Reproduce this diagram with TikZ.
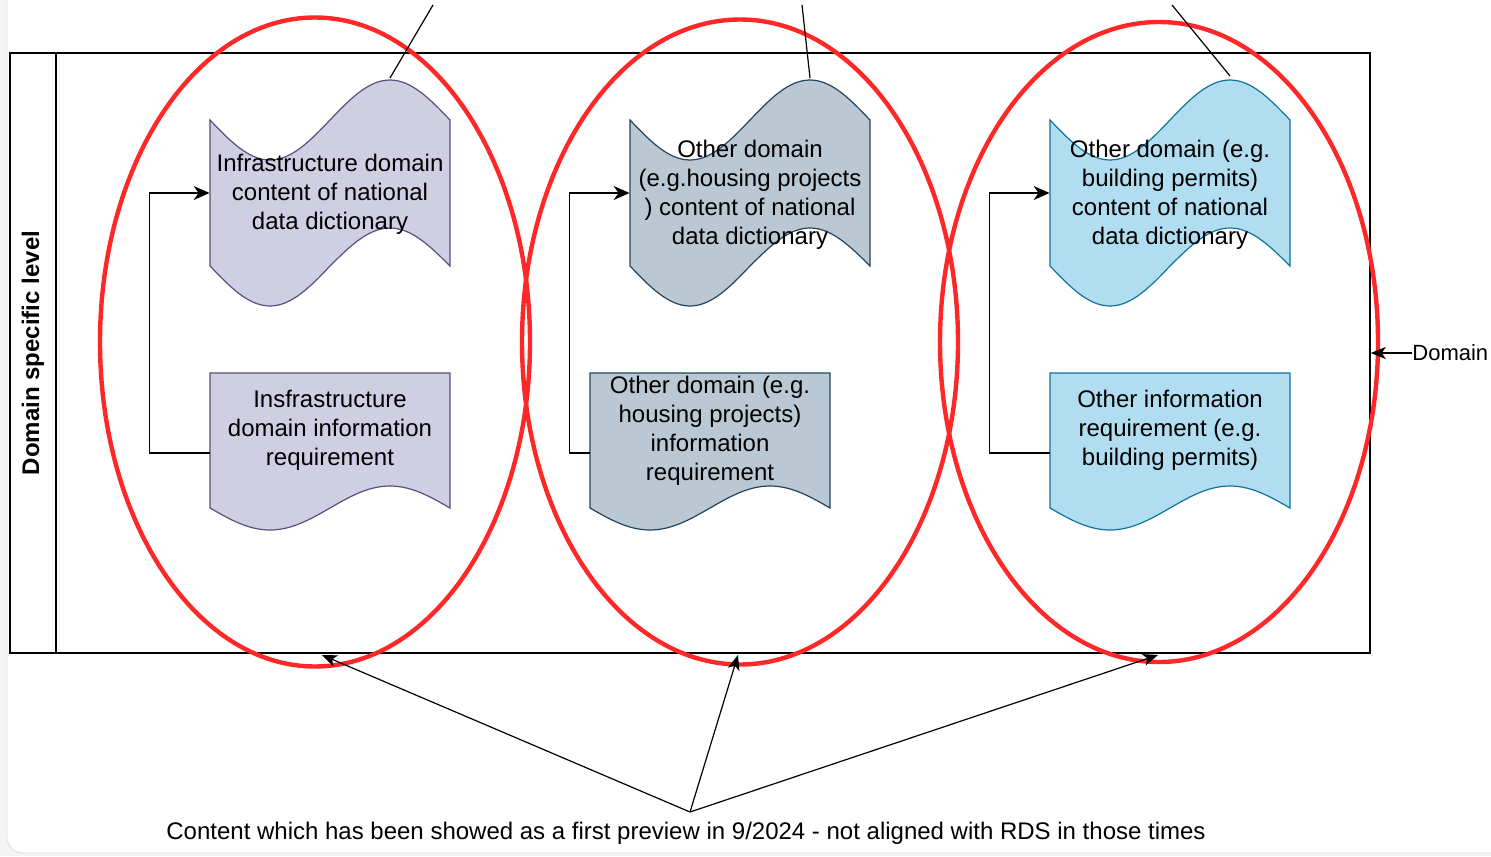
\documentclass[tikz,border=0pt]{standalone}
\usepackage{fontspec}
\setmainfont{Liberation Sans}
\usetikzlibrary{arrows.meta, positioning, calc, shapes.geometric}
\definecolor{infrafill}{HTML}{D0CEE2}
\definecolor{infraline}{HTML}{56517E}
\definecolor{housefill}{HTML}{BAC8D3}
\definecolor{houseline}{HTML}{23445D}
\definecolor{permitfill}{HTML}{B1DDF0}
\definecolor{permitline}{HTML}{10739E}
\definecolor{markred}{RGB}{255, 40, 40}
\definecolor{pagegray}{RGB}{244, 244, 244}
\tikzset{
  lbl/.style={font=\fontsize{12}{14.5}\selectfont, align=center, inner sep=0pt, minimum width=120pt},
  link/.style={line width=0.75pt, -{Stealth[length=8pt, width=7pt, inset=2.5pt]}},
  pointer/.style={line width=0.6pt, -{Stealth[length=7.5pt, width=6pt, inset=2pt]}},
  ring/.style={draw=markred, line width=2.2pt, ellipse, inner sep=0pt},
}

\begin{document}
\begin{tikzpicture}[x=0.5pt, y=-0.5pt]
  \useasboundingbox (0,0) rectangle (1491,856);
  \fill[pagegray] (0,0) rectangle (1491,856);
  \draw[black!12, fill=white, rounded corners=8pt] (7,-20) rectangle (1510,853);

  % Frame and level label
  \node[draw, line width=0.75pt, minimum width=680pt, minimum height=300pt, inner sep=0pt] (frame) at (690,353) {};
  \draw[line width=0.75pt] (56,53) -- (56,653);
  \node[font=\bfseries\fontsize{12}{14}\selectfont, rotate=90] (level) at (33,353) {Domain specific level};

  % Infrastructure
  \filldraw[fill=infrafill, draw=infraline, line width=0.6pt]
    (210,120) sin (270,160) cos (330,120) sin (390,80) cos (450,120)
    -- (450,266) sin (390,228) cos (330,266) sin (270,306) cos (210,266) -- cycle;
  \filldraw[fill=infrafill, draw=infraline, line width=0.6pt]
    (210,373) -- (450,373) -- (450,508) sin (390,486) cos (330,508) sin (270,530) cos (210,508) -- cycle;
  \node[lbl] (dd1) at (330,194.5) {Infrastructure domain\\content of national\\data dictionary};
  \node[lbl] (req1) at (330,430) {Insfrastructure\\domain information\\requirement};

  % Housing projects
  \filldraw[fill=housefill, draw=houseline, line width=0.6pt]
    (630,120) sin (690,160) cos (750,120) sin (810,80) cos (870,120)
    -- (870,266) sin (810,228) cos (750,266) sin (690,306) cos (630,266) -- cycle;
  \filldraw[fill=housefill, draw=houseline, line width=0.6pt]
    (590,373) -- (830,373) -- (830,508) sin (770,486) cos (710,508) sin (650,530) cos (590,508) -- cycle;
  \node[lbl] (dd2) at (750,194.5) {Other domain\\(e.g.housing projects\\) content of national\\data dictionary};
  \node[lbl] (req2) at (710,430.5) {Other domain (e.g.\\housing projects)\\information\\requirement};

  % Building permits
  \filldraw[fill=permitfill, draw=permitline, line width=0.6pt]
    (1050,120) sin (1110,160) cos (1170,120) sin (1230,80) cos (1290,120)
    -- (1290,266) sin (1230,228) cos (1170,266) sin (1110,306) cos (1050,266) -- cycle;
  \filldraw[fill=permitfill, draw=permitline, line width=0.6pt]
    (1050,373) -- (1290,373) -- (1290,508) sin (1230,486) cos (1170,508) sin (1110,530) cos (1050,508) -- cycle;
  \node[lbl] (dd3) at (1170,194.5) {Other domain (e.g.\\building permits)\\content of national\\data dictionary};
  \node[lbl] (req3) at (1170,430) {Other information\\requirement (e.g.\\building permits)};

  % requirement -> dictionary
  \draw[link] ([yshift=-11.5pt]req1.west) -- ++(-60,0) |- ([yshift=0.75pt]dd1.west);
  \draw[link] ([yshift=-11.25pt]req2.west) -- ++(-20,0) |- ([yshift=0.75pt]dd2.west);
  \draw[link] ([yshift=-11.5pt]req3.west) -- ++(-60,0) |- ([yshift=0.75pt]dd3.west);

  % red marks
  \node[ring, minimum width=215pt, minimum height=324.5pt] (ring1) at (315,342) {};
  \node[ring, minimum width=218pt, minimum height=322.5pt] (ring2) at (740,342) {};
  \node[ring, minimum width=219pt, minimum height=320pt] (ring3) at (1159,342) {};

  % lines leaving the picture
  \draw[line width=0.6pt] (390,78) -- (433,5);
  \draw[line width=0.6pt] (810,78) -- (802,5);
  \draw[line width=0.6pt] (1230,76) -- (1172,5);

  % Domain
  \node[font=\fontsize{11}{13}\selectfont, anchor=west, inner sep=0pt] (domain) at (1412,353) {Domain};
  \draw[pointer] (domain.west) -- (frame.east);

  % note
  \node[font=\fontsize{12}{14}\selectfont, inner sep=0pt] (note) at (686,833) {Content which has been showed as a first preview in 9/2024 - not aligned with RDS in those times};
  \coordinate (fork) at (690,812);
  \coordinate (mark1) at (322,655);
  \coordinate (mark2) at (738,655);
  \coordinate (mark3) at (1158,655);
  \draw[pointer] (fork) -- (mark1);
  \draw[pointer] (fork) -- (mark2);
  \draw[pointer] (fork) -- (mark3);
\end{tikzpicture}
\end{document}
